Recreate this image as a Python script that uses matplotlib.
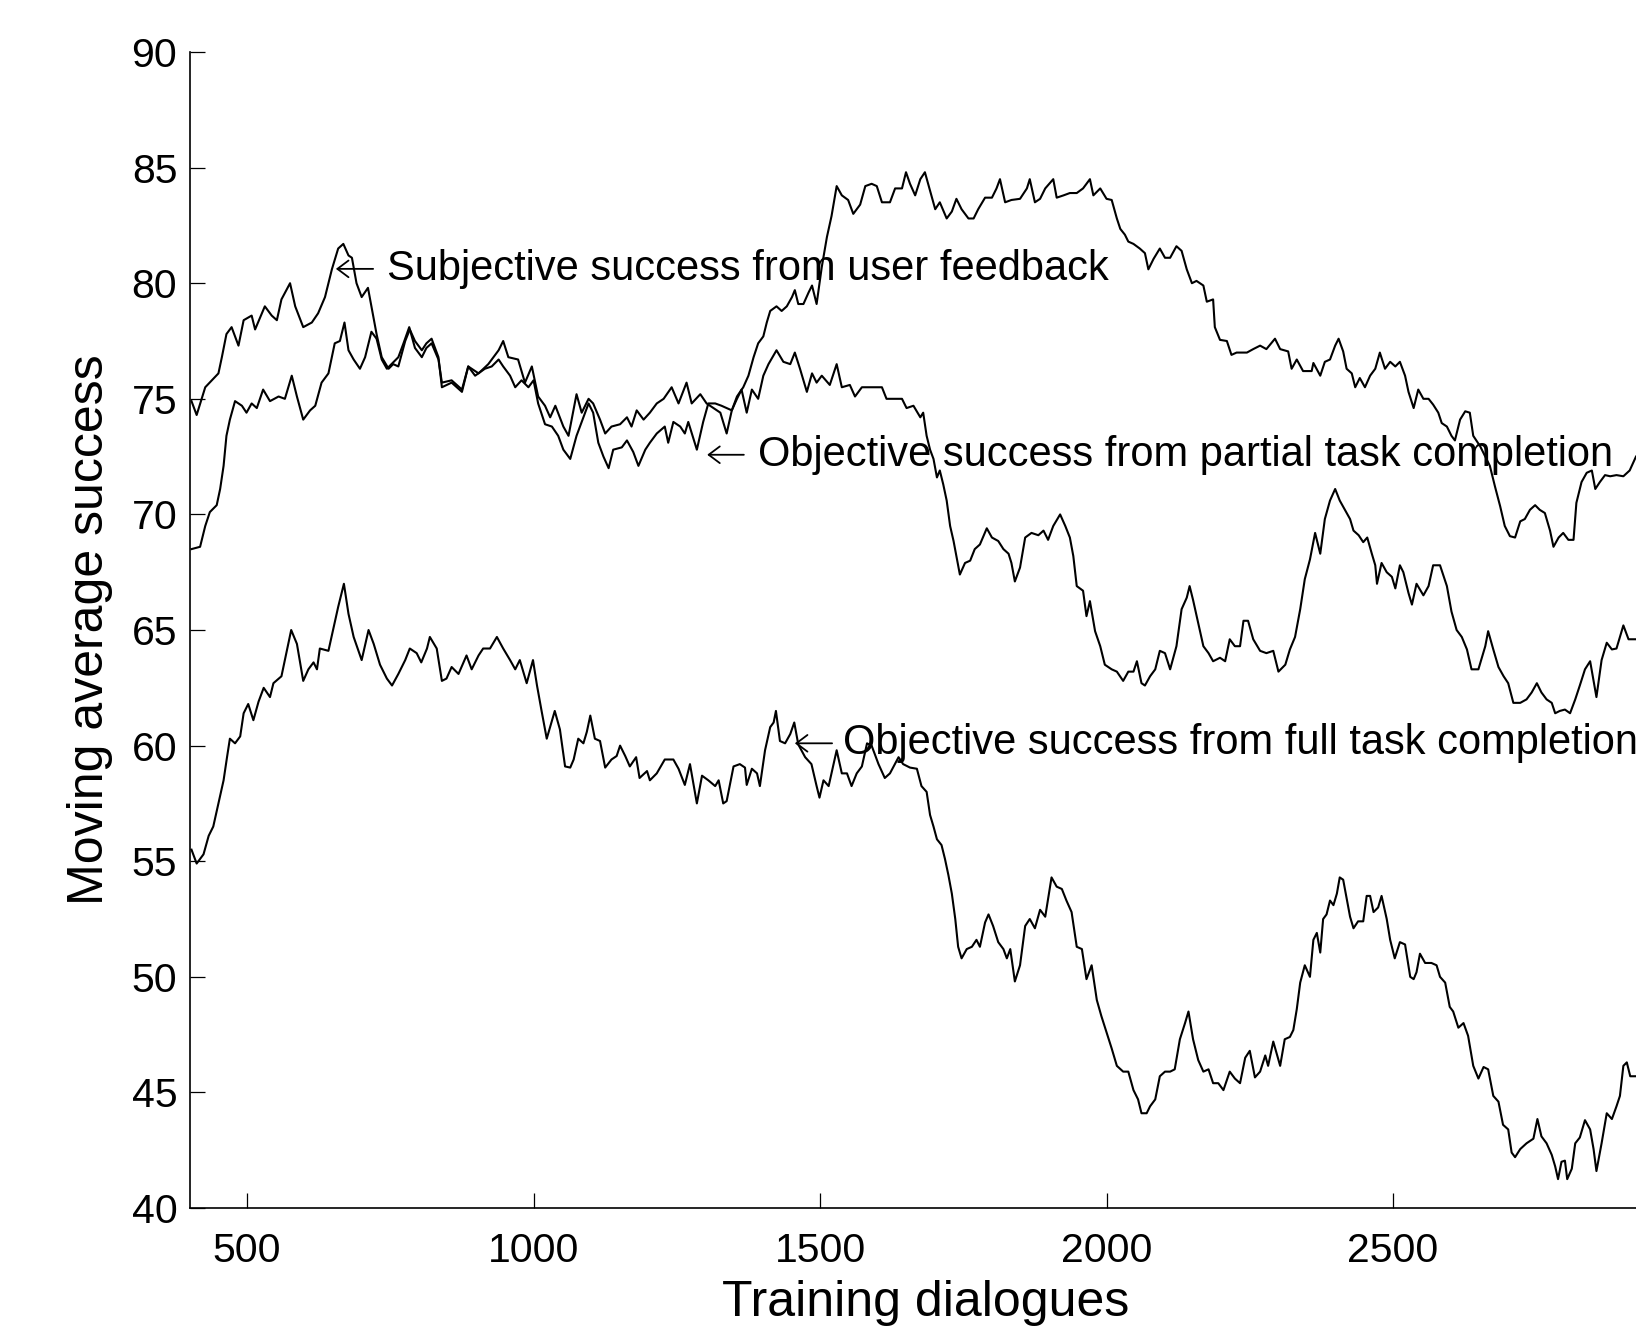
import numpy as np
import matplotlib
matplotlib.use('Agg')
from matplotlib import pyplot

pyplot.rcParams['font.family'] = ['Liberation Sans', 'DejaVu Sans']

# moving average success as (dialogues, success %)
subjective = np.array([
    [403, 74.9], [412, 74.3], [427, 75.5], [450, 76.1], [456, 76.8], [464, 77.8], [473, 78.1], [485, 77.3],
    [494, 78.4], [508, 78.6], [514, 78.0], [531, 79.0], [543, 78.6], [552, 78.4], [560, 79.3], [575, 80.0],
    [584, 79.0], [598, 78.1], [613, 78.3], [624, 78.7], [636, 79.4], [648, 80.6], [659, 81.5], [668, 81.7],
    [677, 81.2], [683, 81.1], [691, 80.0], [700, 79.4], [711, 79.8], [717, 79.0], [726, 77.8], [735, 76.8],
    [747, 76.3], [755, 76.5], [764, 76.4], [776, 77.5], [784, 78.0], [793, 77.5], [805, 77.1], [813, 77.4],
    [822, 77.6], [834, 76.8], [840, 75.5], [857, 75.7], [875, 75.3], [886, 76.4], [904, 76.1], [921, 76.5],
    [939, 77.1], [947, 77.5], [956, 76.8], [973, 76.7], [985, 75.7], [997, 76.4], [1008, 75.1], [1020, 74.7],
    [1029, 74.2], [1038, 74.7], [1052, 73.8], [1061, 73.4], [1075, 75.2], [1084, 74.4], [1096, 75.0],
    [1104, 74.8], [1116, 74.1], [1125, 73.5], [1136, 73.8], [1151, 73.9], [1163, 74.2], [1171, 73.8],
    [1180, 74.5], [1192, 74.1], [1203, 74.4], [1215, 74.8], [1227, 75.0], [1241, 75.5], [1253, 74.8],
    [1267, 75.7], [1276, 74.8], [1291, 75.2], [1302, 74.8], [1314, 74.6], [1326, 74.4], [1337, 73.5],
    [1346, 74.5], [1355, 75.1], [1366, 75.5], [1375, 76.0], [1384, 76.8], [1392, 77.4], [1401, 77.7],
    [1407, 78.3], [1413, 78.8], [1424, 79.0], [1433, 78.8], [1442, 79.0], [1451, 79.4], [1456, 79.7],
    [1462, 79.1], [1471, 79.1], [1480, 79.6], [1486, 79.9], [1494, 79.1], [1503, 80.7], [1512, 82.0],
    [1520, 82.9], [1529, 84.2], [1538, 83.8], [1549, 83.6], [1558, 83.0], [1570, 83.4], [1579, 84.2],
    [1590, 84.3], [1599, 84.2], [1608, 83.5], [1622, 83.5], [1631, 84.1], [1643, 84.1], [1650, 84.8],
    [1657, 84.3], [1666, 83.8], [1675, 84.5], [1683, 84.8], [1692, 84.0], [1701, 83.2], [1709, 83.5],
    [1721, 82.8], [1730, 83.1], [1738, 83.65], [1747, 83.2], [1759, 82.8], [1768, 82.8], [1776, 83.2],
    [1788, 83.7], [1800, 83.7], [1808, 84.1], [1814, 84.5], [1823, 83.5], [1834, 83.6], [1849, 83.65],
    [1861, 84.1], [1866, 84.5], [1875, 83.5], [1884, 83.65], [1893, 84.1], [1907, 84.5], [1913, 83.7],
    [1925, 83.8], [1936, 83.9], [1948, 83.9], [1959, 84.1], [1971, 84.5], [1977, 83.8], [1989, 84.1],
    [2000, 83.65], [2009, 83.6], [2018, 82.8], [2024, 82.35], [2032, 82.1], [2038, 81.8], [2047, 81.7],
    [2058, 81.5], [2067, 81.3], [2073, 80.6], [2082, 81.05], [2093, 81.5], [2102, 81.1], [2111, 81.1],
    [2122, 81.6], [2131, 81.4], [2140, 80.6], [2149, 80.0], [2157, 80.1], [2169, 79.9], [2175, 79.2],
    [2186, 79.3], [2189, 78.1], [2198, 77.55], [2210, 77.5], [2218, 76.9], [2227, 77.0], [2245, 77.0],
    [2256, 77.15], [2268, 77.3], [2279, 77.15], [2294, 77.6], [2303, 77.15], [2317, 77.05], [2323, 76.3],
    [2332, 76.7], [2343, 76.2], [2358, 76.2], [2361, 76.55], [2373, 76.0], [2381, 76.6], [2390, 76.7],
    [2399, 77.3], [2405, 77.6], [2413, 77.05], [2419, 76.3], [2428, 76.1], [2434, 75.5], [2442, 75.9],
    [2451, 75.5], [2460, 76.0], [2469, 76.3], [2477, 77.0], [2486, 76.3], [2495, 76.6], [2504, 76.4],
    [2512, 76.6], [2521, 76.0], [2527, 75.3], [2536, 74.6], [2544, 75.4], [2553, 75.0], [2562, 75.0],
    [2570, 74.75], [2579, 74.4], [2585, 73.95], [2594, 73.8], [2602, 73.4], [2608, 73.2], [2617, 74.1],
    [2626, 74.46], [2634, 74.4], [2640, 73.4], [2652, 72.95], [2661, 72.5], [2669, 72.1], [2678, 71.2],
    [2687, 70.35], [2695, 69.5], [2704, 69.06], [2713, 69.0], [2722, 69.7], [2730, 69.8], [2739, 70.2],
    [2748, 70.4], [2756, 70.2], [2765, 70.06], [2774, 69.3], [2780, 68.6], [2789, 69.0], [2797, 69.2],
    [2806, 68.9], [2815, 68.9], [2820, 70.5], [2829, 71.4], [2838, 71.8], [2847, 71.9], [2853, 71.1],
    [2861, 71.4], [2870, 71.7], [2879, 71.65], [2890, 71.7], [2902, 71.65], [2913, 71.9], [2924, 72.5]])

partial = np.array([
    [403, 68.5], [418, 68.6], [427, 69.5], [435, 70.1], [447, 70.4], [453, 71.1], [459, 72.1], [464, 73.4],
    [470, 74.1], [479, 74.9], [491, 74.7], [499, 74.4], [508, 74.8], [517, 74.6], [528, 75.4], [540, 74.9],
    [555, 75.1], [566, 75.0], [578, 76.0], [587, 75.1], [598, 74.1], [610, 74.5], [619, 74.7], [630, 75.7],
    [642, 76.1], [653, 77.4], [662, 77.5], [670, 78.3], [677, 77.1], [686, 76.7], [697, 76.3], [706, 76.8],
    [717, 77.9], [726, 77.6], [735, 76.7], [744, 76.3], [752, 76.5], [764, 76.8], [773, 77.4], [783, 78.1],
    [793, 77.2], [805, 76.8], [813, 77.2], [822, 77.4], [834, 76.7], [840, 75.7], [857, 75.8], [875, 75.4],
    [886, 76.4], [898, 76.0], [915, 76.3], [927, 76.4], [939, 76.7], [947, 76.4], [959, 76.0], [968, 75.5],
    [979, 75.8], [991, 75.5], [1000, 75.8], [1008, 74.8], [1020, 73.9], [1032, 73.8], [1043, 73.4],
    [1052, 72.8], [1064, 72.4], [1075, 73.4], [1087, 74.2], [1096, 74.8], [1104, 74.4], [1113, 73.1],
    [1122, 72.5], [1131, 72.0], [1139, 72.8], [1154, 72.9], [1163, 73.2], [1174, 72.7], [1183, 72.1],
    [1195, 72.8], [1203, 73.1], [1215, 73.5], [1229, 73.8], [1235, 73.1], [1244, 74.0], [1256, 73.8],
    [1264, 73.5], [1270, 74.0], [1285, 72.8], [1296, 74.0], [1305, 74.8], [1317, 74.8], [1328, 74.7],
    [1346, 74.5], [1355, 75.0], [1363, 75.4], [1372, 74.4], [1381, 75.4], [1392, 75.0], [1401, 76.0],
    [1410, 76.5], [1424, 77.1], [1436, 76.6], [1448, 76.5], [1456, 77.0], [1465, 76.3], [1477, 75.3],
    [1486, 76.1], [1494, 75.7], [1503, 76.0], [1517, 75.6], [1529, 76.5], [1538, 75.5], [1552, 75.6],
    [1561, 75.1], [1573, 75.5], [1587, 75.5], [1608, 75.5], [1616, 75.0], [1628, 75.0], [1643, 75.0],
    [1651, 74.6], [1663, 74.7], [1675, 74.2], [1680, 74.4], [1686, 73.4], [1692, 72.8], [1698, 72.4],
    [1704, 71.6], [1709, 71.9], [1715, 71.3], [1721, 70.6], [1727, 69.5], [1733, 68.85], [1738, 68.2],
    [1744, 67.4], [1753, 67.9], [1762, 68.0], [1770, 68.5], [1779, 68.7], [1791, 69.4], [1800, 69.0],
    [1811, 68.85], [1820, 68.5], [1829, 68.3], [1834, 67.9], [1840, 67.1], [1849, 67.7], [1858, 69.0],
    [1869, 69.2], [1881, 69.1], [1890, 69.3], [1898, 68.9], [1907, 69.5], [1919, 70.0], [1928, 69.5],
    [1936, 69.0], [1942, 68.2], [1948, 66.9], [1959, 66.7], [1965, 65.6], [1971, 66.25], [1980, 64.95],
    [1989, 64.3], [1997, 63.5], [2009, 63.3], [2018, 63.2], [2029, 62.8], [2038, 63.2], [2047, 63.2],
    [2053, 63.65], [2061, 62.7], [2067, 62.6], [2076, 63.0], [2085, 63.3], [2093, 64.1], [2102, 64.0],
    [2111, 63.3], [2122, 64.3], [2131, 65.9], [2140, 66.4], [2145, 66.9], [2151, 66.3], [2160, 65.3],
    [2169, 64.3], [2178, 64.0], [2186, 63.65], [2198, 63.8], [2207, 63.65], [2215, 64.6], [2224, 64.3],
    [2233, 64.3], [2239, 65.4], [2247, 65.4], [2256, 64.6], [2268, 64.1], [2279, 64.0], [2291, 64.1],
    [2300, 63.2], [2312, 63.5], [2320, 64.16], [2329, 64.7], [2338, 65.9], [2346, 67.2], [2355, 68.05],
    [2364, 69.2], [2373, 68.3], [2381, 69.8], [2390, 70.6], [2399, 71.1], [2407, 70.6], [2416, 70.2],
    [2425, 69.8], [2431, 69.3], [2440, 69.1], [2448, 68.8], [2455, 69.0], [2463, 68.3], [2469, 67.8],
    [2472, 67.0], [2480, 67.9], [2489, 67.5], [2498, 67.3], [2504, 66.8], [2512, 67.8], [2518, 67.5],
    [2527, 66.6], [2533, 66.1], [2541, 67.0], [2553, 66.5], [2562, 66.9], [2570, 67.8], [2582, 67.8],
    [2594, 66.9], [2602, 65.8], [2611, 65.0], [2620, 64.7], [2629, 64.16], [2637, 63.3], [2649, 63.3],
    [2661, 64.3], [2666, 64.95], [2675, 64.16], [2684, 63.4], [2693, 63.0], [2701, 62.7], [2710, 61.85],
    [2722, 61.85], [2733, 62.0], [2742, 62.3], [2751, 62.7], [2759, 62.3], [2768, 62.0], [2777, 61.85],
    [2783, 61.4], [2791, 61.5], [2800, 61.56], [2809, 61.4], [2818, 62.0], [2826, 62.6], [2835, 63.3],
    [2844, 63.65], [2855, 62.1], [2864, 63.7], [2873, 64.45], [2882, 64.16], [2890, 64.2], [2902, 65.2],
    [2911, 64.6], [2924, 64.6]])

full = np.array([
    [403, 55.5], [412, 54.9], [424, 55.3], [433, 56.1], [441, 56.5], [450, 57.5], [459, 58.5], [465, 59.5],
    [470, 60.3], [479, 60.1], [488, 60.4], [494, 61.4], [502, 61.8], [511, 61.1], [520, 61.9], [529, 62.5],
    [540, 62.1], [546, 62.7], [560, 63.0], [566, 63.7], [577, 65.0], [587, 64.4], [598, 62.8], [607, 63.3],
    [616, 63.6], [622, 63.3], [627, 64.2], [642, 64.1], [651, 65.1], [659, 66.0], [669, 67.0], [677, 65.7],
    [686, 64.7], [700, 63.7], [712, 65.0], [721, 64.4], [732, 63.5], [744, 62.9], [753, 62.6], [764, 63.1],
    [776, 63.7], [784, 64.2], [796, 64.0], [804, 63.6], [814, 64.2], [819, 64.7], [831, 64.2], [840, 62.8],
    [848, 62.9], [857, 63.4], [869, 63.1], [883, 63.9], [892, 63.3], [904, 63.9], [912, 64.2], [924, 64.2],
    [936, 64.7], [947, 64.2], [959, 63.7], [968, 63.3], [976, 63.7], [988, 62.7], [999, 63.7], [1006, 62.6],
    [1014, 61.5], [1023, 60.3], [1037, 61.5], [1046, 60.7], [1055, 59.1], [1064, 59.05], [1070, 59.4],
    [1078, 60.3], [1087, 60.1], [1093, 60.6], [1099, 61.3], [1107, 60.3], [1116, 60.2], [1125, 59.05],
    [1136, 59.4], [1145, 59.55], [1151, 60.0], [1160, 59.55], [1168, 59.1], [1179, 59.5], [1185, 58.6],
    [1198, 58.9], [1203, 58.5], [1215, 58.8], [1229, 59.4], [1244, 59.4], [1253, 59.0], [1264, 58.3],
    [1273, 59.2], [1285, 57.5], [1294, 58.7], [1305, 58.5], [1317, 58.25], [1323, 58.5], [1331, 57.5],
    [1337, 57.6], [1349, 59.1], [1360, 59.2], [1369, 59.05], [1372, 58.3], [1381, 59.0], [1390, 58.8],
    [1395, 58.25], [1404, 59.8], [1413, 60.8], [1419, 61.0], [1423, 61.5], [1430, 60.2], [1439, 60.1],
    [1448, 60.5], [1455, 61.0], [1462, 60.05], [1474, 59.5], [1485, 59.2], [1494, 58.25], [1499, 57.75],
    [1506, 58.5], [1515, 58.25], [1529, 59.8], [1538, 58.8], [1547, 58.8], [1555, 58.25], [1564, 58.8],
    [1573, 59.1], [1582, 60.1], [1590, 60.0], [1602, 59.2], [1613, 58.6], [1622, 58.8], [1637, 59.5],
    [1645, 59.2], [1657, 59.05], [1669, 59.0], [1677, 58.25], [1686, 58.0], [1692, 57.0], [1698, 56.5],
    [1704, 55.95], [1712, 55.7], [1718, 55.1], [1724, 54.4], [1730, 53.6], [1736, 52.5], [1741, 51.3],
    [1747, 50.8], [1756, 51.2], [1765, 51.3], [1773, 51.6], [1779, 51.3], [1788, 52.35], [1794, 52.7],
    [1802, 52.2], [1811, 51.5], [1820, 51.2], [1826, 50.8], [1832, 51.2], [1840, 49.8], [1849, 50.5],
    [1858, 52.2], [1866, 52.5], [1875, 52.1], [1884, 52.9], [1893, 52.6], [1904, 54.3], [1913, 53.9],
    [1922, 53.8], [1930, 53.3], [1939, 52.8], [1948, 51.3], [1957, 51.2], [1965, 49.9], [1974, 50.5],
    [1983, 49.0], [1991, 48.3], [2000, 47.6], [2009, 46.9], [2018, 46.15], [2029, 45.9], [2038, 45.9],
    [2047, 45.1], [2055, 44.7], [2061, 44.1], [2070, 44.1], [2076, 44.4], [2085, 44.7], [2093, 45.7],
    [2102, 45.9], [2111, 45.9], [2119, 46.0], [2128, 47.3], [2137, 48.0], [2143, 48.5], [2151, 47.3],
    [2160, 46.4], [2169, 45.9], [2178, 46.0], [2186, 45.4], [2195, 45.4], [2204, 45.1], [2215, 45.9],
    [2224, 45.6], [2233, 45.4], [2242, 46.5], [2250, 46.8], [2259, 45.65], [2268, 45.9], [2277, 46.6],
    [2282, 46.15], [2291, 47.2], [2303, 46.15], [2311, 47.3], [2320, 47.4], [2326, 47.7], [2332, 48.6],
    [2338, 49.75], [2346, 50.5], [2355, 50.0], [2361, 51.6], [2367, 51.9], [2373, 51.05], [2378, 52.5],
    [2384, 52.7], [2390, 53.3], [2396, 53.1], [2402, 53.6], [2407, 54.3], [2413, 54.2], [2419, 53.4],
    [2425, 52.6], [2431, 52.1], [2439, 52.4], [2448, 52.4], [2454, 53.5], [2460, 53.5], [2466, 52.8],
    [2474, 53.0], [2480, 53.5], [2489, 52.5], [2495, 51.6], [2503, 50.8], [2512, 51.5], [2521, 51.4],
    [2530, 50.0], [2536, 49.9], [2541, 50.2], [2547, 51.0], [2556, 50.6], [2567, 50.6], [2576, 50.5],
    [2582, 50.0], [2591, 49.75], [2599, 48.7], [2605, 48.5], [2614, 47.8], [2623, 48.0], [2631, 47.45],
    [2640, 46.15], [2649, 45.6], [2658, 46.1], [2666, 46.0], [2675, 44.85], [2684, 44.6], [2692, 43.6],
    [2701, 43.4], [2707, 42.4], [2713, 42.2], [2722, 42.55], [2733, 42.8], [2745, 43.0], [2752, 43.85],
    [2759, 43.1], [2768, 42.8], [2777, 42.3], [2783, 41.8], [2788, 41.25], [2794, 42.0], [2800, 42.05],
    [2804, 41.25], [2812, 41.7], [2818, 42.8], [2826, 43.05], [2835, 43.8], [2844, 43.4], [2850, 42.55],
    [2855, 41.6], [2864, 42.8], [2873, 44.1], [2882, 43.85], [2890, 44.4], [2896, 44.85], [2902, 46.15],
    [2908, 46.3], [2914, 45.7], [2924, 45.7]])

labels = ["Subjective success from user feedback",
          "Objective success from partial task completion",
          "Objective success from full task completion"]
# arrow tip, arrow tail and text start for each label (dialogues, success)
arrow_tip = [(655, 80.62), (1303, 72.58), (1456, 60.1)]
arrow_tail = [(720, 80.62), (1367, 72.58), (1521, 60.1)]
text_at = [(744, 80.15), (1392, 72.1), (1540, 59.62)]

xticks = [500, 1000, 1500, 2000, 2500]
yticks = np.arange(40, 91, 5)

fig = pyplot.figure(figsize=(16.36, 13.30), dpi=100)
# axes run past the right edge of the picture, as in the cropped original
ax = fig.add_axes([0.1160, 0.0917, 0.9106, 0.8692])

for series in [subjective, partial, full]:
    ax.plot(series[:, 0], series[:, 1], color='black', lw=1.5)

for text, tip, tail, pos in zip(labels, arrow_tip, arrow_tail, text_at):
    ax.annotate('', xy=tip, xytext=tail,
                arrowprops=dict(arrowstyle='->, head_length=0.4, head_width=0.3',
                                lw=1.3, color='black', mutation_scale=20,
                                shrinkA=0, shrinkB=0))
    ax.text(pos[0], pos[1], text, fontsize=30, ha='left', va='baseline')

ax.set_xlim(400, 3000)
ax.set_ylim(40, 90)
ax.set_xticks(xticks)
ax.set_yticks(yticks)

ax.spines['top'].set_visible(False)
ax.spines['right'].set_visible(False)
ax.spines['left'].set_linewidth(1.2)
ax.spines['bottom'].set_linewidth(1.2)

ax.tick_params(direction='in', length=10.8, width=0.9, labelsize=29.5)
ax.tick_params(axis='x', pad=17)
ax.tick_params(axis='y', pad=9)

ax.set_xlabel("Training dialogues", fontsize=36)
ax.set_ylabel("Moving average success", fontsize=36)
ax.xaxis.set_label_coords(0.494, -0.062)
ax.yaxis.set_label_coords(-0.0515, 0.5)

pyplot.savefig("out.png", dpi=100)
